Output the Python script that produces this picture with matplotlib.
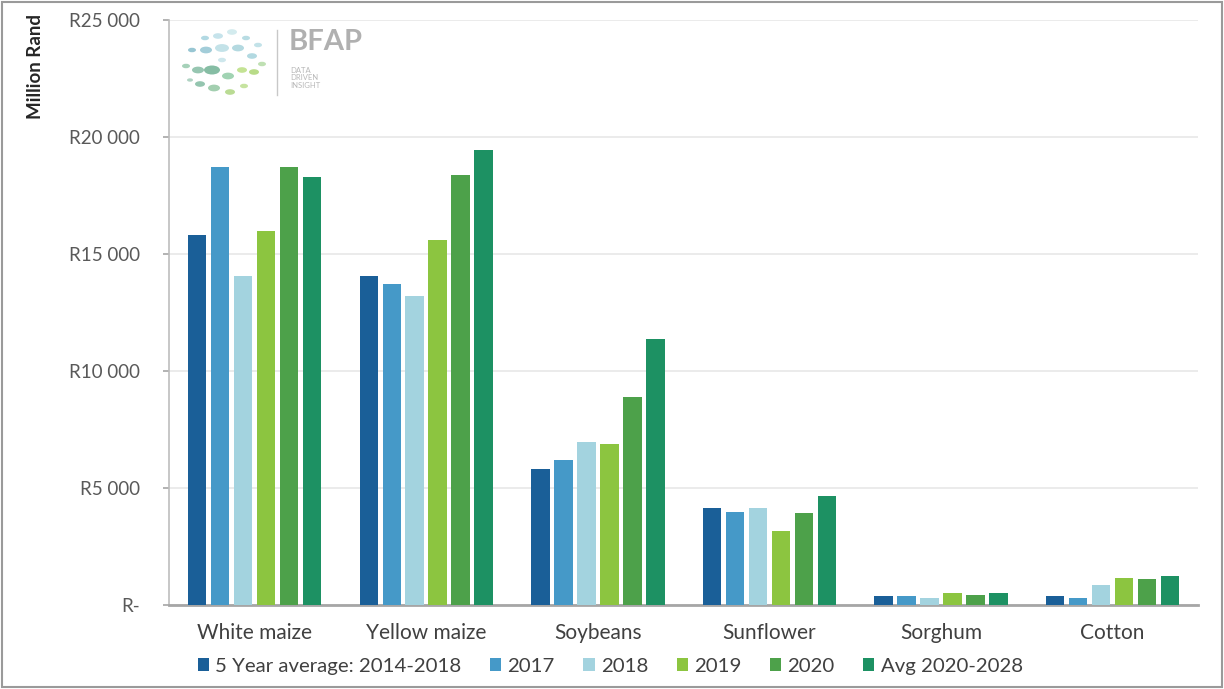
import matplotlib
matplotlib.use("Agg")
import matplotlib.pyplot as plt
import numpy as np
from matplotlib.patches import Rectangle, Circle

categories = ["White maize", "Yellow maize", "Soybeans", "Sunflower", "Sorghum", "Cotton"]
series_names = ["5 Year average: 2014-2018", "2017", "2018", "2019", "2020", "Avg 2020-2028"]
five_year = [15800, 14060, 5800, 4150, 385, 385]
y2017 = [18700, 13700, 6200, 3970, 385, 300]
y2018 = [14060, 13200, 6970, 4150, 300, 860]
y2019 = [16000, 15600, 6880, 3160, 510, 1150]
y2020 = [18700, 18380, 8900, 3930, 430, 1100]
avg_2020_2028 = [18300, 19440, 11370, 4660, 510, 1230]
yticks = [0, 5000, 10000, 15000, 20000, 25000]
ytick_labels = ["R-", "R5 000", "R10 000", "R15 000", "R20 000", "R25 000"]

colors = ["#1a5f98", "#4599c8", "#a3d3df", "#8cc540", "#4da14a", "#1d9163"]
series = [five_year, y2017, y2018, y2019, y2020, avg_2020_2028]

plt.rcParams['font.family'] = ['Lato', 'DejaVu Sans']

fig = plt.figure(figsize=(12.24, 6.89), dpi=100)
ax = fig.add_axes([0.138, 0.122, 0.841, 0.849])

x = np.arange(len(categories))
step = 0.134
width = 0.108
for i, (vals, c, name) in enumerate(zip(series, colors, series_names)):
    ax.bar(x + (i - 2.5) * step, vals, width=width, color=c, label=name, zorder=3)

ax.set_xlim(-0.5, len(categories) - 0.5)
ax.set_ylim(0, 25000)
ax.set_yticks(yticks)
ax.set_yticklabels(ytick_labels, fontsize=13.5, color="#595959")
ax.set_xticks(x)
ax.set_xticklabels(categories, fontsize=15, color="#404040")
ax.tick_params(axis='x', length=0, pad=13)
ax.tick_params(axis='y', length=4, width=1.2, color="#a6a6a6", pad=17, direction="out")
ax.grid(axis='y', color="#e8e8e8", linewidth=1.2, zorder=0)
for s in ["top", "right"]:
    ax.spines[s].set_visible(False)
ax.spines["left"].set_color("#bdbdbd")
ax.spines["left"].set_linewidth(1.2)
ax.spines["bottom"].set_color("#a6a6a6")
ax.spines["bottom"].set_linewidth(2)

fig.text(0.029, 0.980, "Million Rand", rotation=90, ha="center", va="top",
         fontsize=13.5, fontweight="bold", color="#262626")

leg = fig.legend(loc="center left", bbox_to_anchor=(198 / 1224, 0.033), ncol=6, frameon=False,
                 fontsize=14.7, handlelength=0.55, handleheight=0.55, handletextpad=0.3,
                 columnspacing=1.4, borderaxespad=0, borderpad=0)
for t in leg.get_texts():
    t.set_color("#404040")

# BFAP logo (decorative)
logo_pts = [(205, 38, 4), (218, 36, 5), (232, 32, 5), (246, 38, 4), (258, 45, 4),
            (192, 50, 4), (206, 50, 6), (222, 48, 7), (238, 48, 6), (252, 56, 5),
            (262, 64, 4), (186, 66, 4), (198, 70, 6), (212, 70, 8), (228, 76, 6),
            (242, 70, 5), (254, 72, 5), (200, 84, 5), (214, 88, 6), (230, 92, 5),
            (244, 86, 4), (222, 60, 4), (190, 80, 3)]
logo_cols = ["#9fd0dc", "#b8dde6", "#c9e6ea", "#a7d4dd", "#b3dbe3", "#7fb8c8", "#8cc1d0",
             "#b5dbe3", "#a1d0d9", "#9fd0da", "#b0d9a0", "#90c6a8", "#7db89e", "#68ad8e",
             "#8ac9a0", "#b6dc7a", "#a7d36b", "#7ab79b", "#8cc39c", "#a9d37a", "#b8dc88",
             "#c2e1e8", "#9cc9b5"]
for (px, py, r), c in zip(logo_pts, logo_cols):
    fig.patches.append(Circle((px / 1224, 1 - py / 689), r / 1224, transform=fig.transFigure,
                              facecolor=c, edgecolor="none", alpha=0.8))
fig.add_artist(plt.Line2D([277 / 1224, 277 / 1224], [1 - 30 / 689, 1 - 95 / 689],
                          transform=fig.transFigure, color="#c8c8c8", lw=1))
fig.text(289 / 1224, 1 - 42 / 689, "BFAP", fontsize=21, color="#b0b0b0", va="center",
         fontweight="bold")
fig.text(290 / 1224, 1 - 78 / 689, "DATA\nDRIVEN\nINSIGHT", fontsize=5.5, color="#b8b8b8",
         va="center", linespacing=1.15)

# outer frame
fig.patches.append(Rectangle((0.002, 0.003), 0.996, 0.994, transform=fig.transFigure,
                             fill=False, edgecolor="#9a9a9a", linewidth=1.5))

fig.savefig("out.png", dpi=100)
